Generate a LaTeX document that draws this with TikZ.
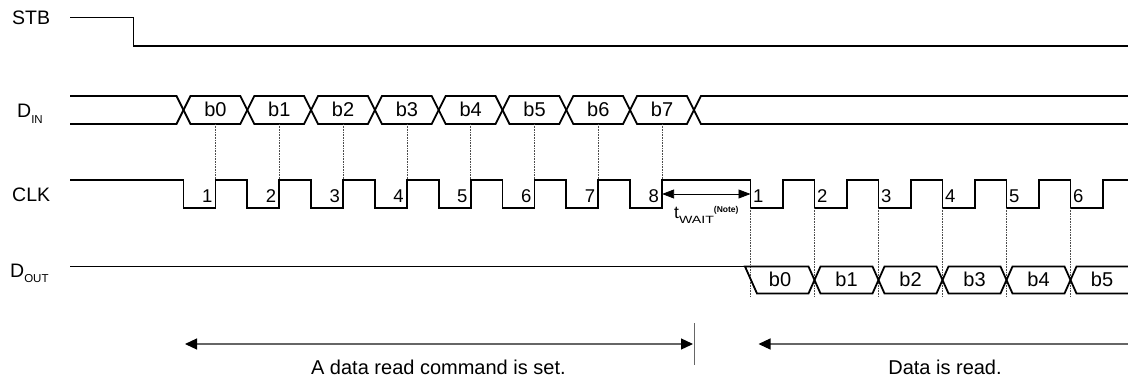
\documentclass[tikz,border=0pt]{standalone}
\usepackage{fontspec}
\setmainfont{Liberation Sans}
\usetikzlibrary{arrows.meta}
\begin{document}
\begin{tikzpicture}[x=1pt,y=-1pt,
  sig/.style={line width=1.8pt, line join=miter},
  guide/.style={densely dotted, line width=0.6pt, black!70},
  span/.style={line width=1.2pt, draw=black!60},
  lbl/.style={inner sep=0pt, font=\fontsize{19.5}{19.5}\selectfont},
  num/.style={inner sep=0pt, font=\fontsize{18.5}{18.5}\selectfont},
  bit/.style={inner sep=0pt, anchor=base, font=\fontsize{20}{20}\selectfont}]
\useasboundingbox (0,0) rectangle (1128,381);

% ---- signal names
\node[lbl, anchor=base west] (stb) at (12,24) {STB};
\node[lbl, anchor=base west] (din) at (17,117) {D\raisebox{-6pt}{\fontsize{11.5}{11.5}\selectfont IN}};
\node[lbl, anchor=base west] (clk) at (12,201.7) {CLK};
\node[lbl, anchor=base west] (dout) at (10,277.7) {D\raisebox{-4.5pt}{\fontsize{11.5}{11.5}\selectfont OUT}};

% ---- STB
\draw[sig] (70,17.5) -- (133.5,17.5) -- (133.5,46) -- (1128,46);

% ---- DIN
\draw[sig] (70,96) -- (176.5,96) -- (183.5,110) -- (176.5,124) -- (70,124);
\foreach \k in {0,...,7} {
  \pgfmathsetmacro\ca{183.5+63.8*\k}
  \pgfmathsetmacro\cb{183.5+63.8*(\k+1)}
  \draw[sig] (\ca,110) -- (\ca+7,96) -- (\cb-7,96) -- (\cb,110) -- (\cb-7,124) -- (\ca+7,124) -- cycle;
  \pgfmathsetmacro\rr{\ca+32}
  \node[bit] (dinb\k) at (\rr,116) {b\k};
  \draw[guide] (\rr,124) -- (\rr,180);
}
\draw[sig] (1128,96) -- (700.9,96) -- (693.9,110) -- (700.9,124) -- (1128,124);

% ---- CLK
\draw[sig] (70,180) -| (183.5,208) -| (215.5,180) -| (247.3,208) -| (279.3,180)
  -| (311.1,208) -| (343.1,180) -| (374.9,208) -| (406.9,180) -| (438.7,208)
  -| (470.7,180) -| (502.5,208) -| (534.5,180) -| (566.3,208) -| (598.3,180)
  -| (630.1,208) -| (662.1,180) -| (750.5,208) -| (783,180) -| (814.5,208)
  -| (847,180) -| (878.5,208) -| (911,180) -| (942.5,208) -| (975,180)
  -| (1006.5,208) -| (1039,180) -| (1070.5,208) -| (1103,180) -- (1128,180);
\foreach \k [count=\n] in {0,...,7} {
  \pgfmathsetmacro\rr{215.5+63.8*\k}
  \node[num, anchor=base east] (cn\n) at (\rr-3,202) {\n};
}
\foreach \j [count=\n] in {0,...,5} {
  \pgfmathsetmacro\ff{750.5+64*\j}
  \node[num, anchor=base west] (cm\n) at (\ff+2.5,202) {\n};
  \draw[guide] (\ff,208) -- (\ff,297);
}

% ---- tWAIT
\coordinate (w1) at (662.1,194);
\coordinate (w2) at (750.5,194);
\draw[line width=0.8pt, {Triangle[length=12pt,width=9pt]}-{Triangle[length=12pt,width=9pt]}] (w1) -- (w2);
\node[inner sep=0pt, anchor=base west] (tw) at (674,218.3)
  {\fontsize{17.5}{17.5}\selectfont t\raisebox{-5pt}{\scalebox{1.35}[1]{\fontsize{10.5}{10.5}\selectfont WAIT}}\raisebox{5.5pt}{\fontsize{8.5}{8.5}\selectfont\bfseries (Note)}};

% ---- DOUT
\draw[sig] (70,266.5) -- (745,266.5);
\draw[sig] (745,266.5) -- (808.5,266.5) -- (814.5,280) -- (808.5,293.5) -- (757,293.5) -- cycle;
\node[bit] (doutb0) at (780,286.5) {b0};
\foreach \j in {1,...,4} {
  \pgfmathsetmacro\ca{750.5+64*\j}
  \pgfmathsetmacro\cb{750.5+64*(\j+1)}
  \draw[sig] (\ca,280) -- (\ca+6,266.5) -- (\cb-6,266.5) -- (\cb,280) -- (\cb-6,293.5) -- (\ca+6,293.5) -- cycle;
  \node[bit] (doutb\j) at (\ca+32,286.5) {b\j};
}
\draw[sig] (1128,266.5) -- (1076.5,266.5) -- (1070.5,280) -- (1076.5,293.5) -- (1128,293.5);
\node[bit] (doutb5) at (1102,286.5) {b5};

% ---- phase spans
\coordinate (s1l) at (185,344);
\coordinate (s1r) at (693,344);
\coordinate (s2l) at (758.5,344);
\coordinate (s2r) at (1128,344);
\draw[span, {Triangle[length=12pt,width=11pt,color=black]}-{Triangle[length=12pt,width=11pt,color=black]}] (s1l) -- (s1r);
\draw[line width=0.8pt, black!60] (694,323) -- (694,365);
\draw[span, {Triangle[length=12pt,width=11pt,color=black]}-] (s2l) -- (s2r);
\node[bit] (t1) at (438.4,374) {A data read command is set.};
\node[bit] (t2) at (945,374) {Data is read.};
\end{tikzpicture}
\end{document}
